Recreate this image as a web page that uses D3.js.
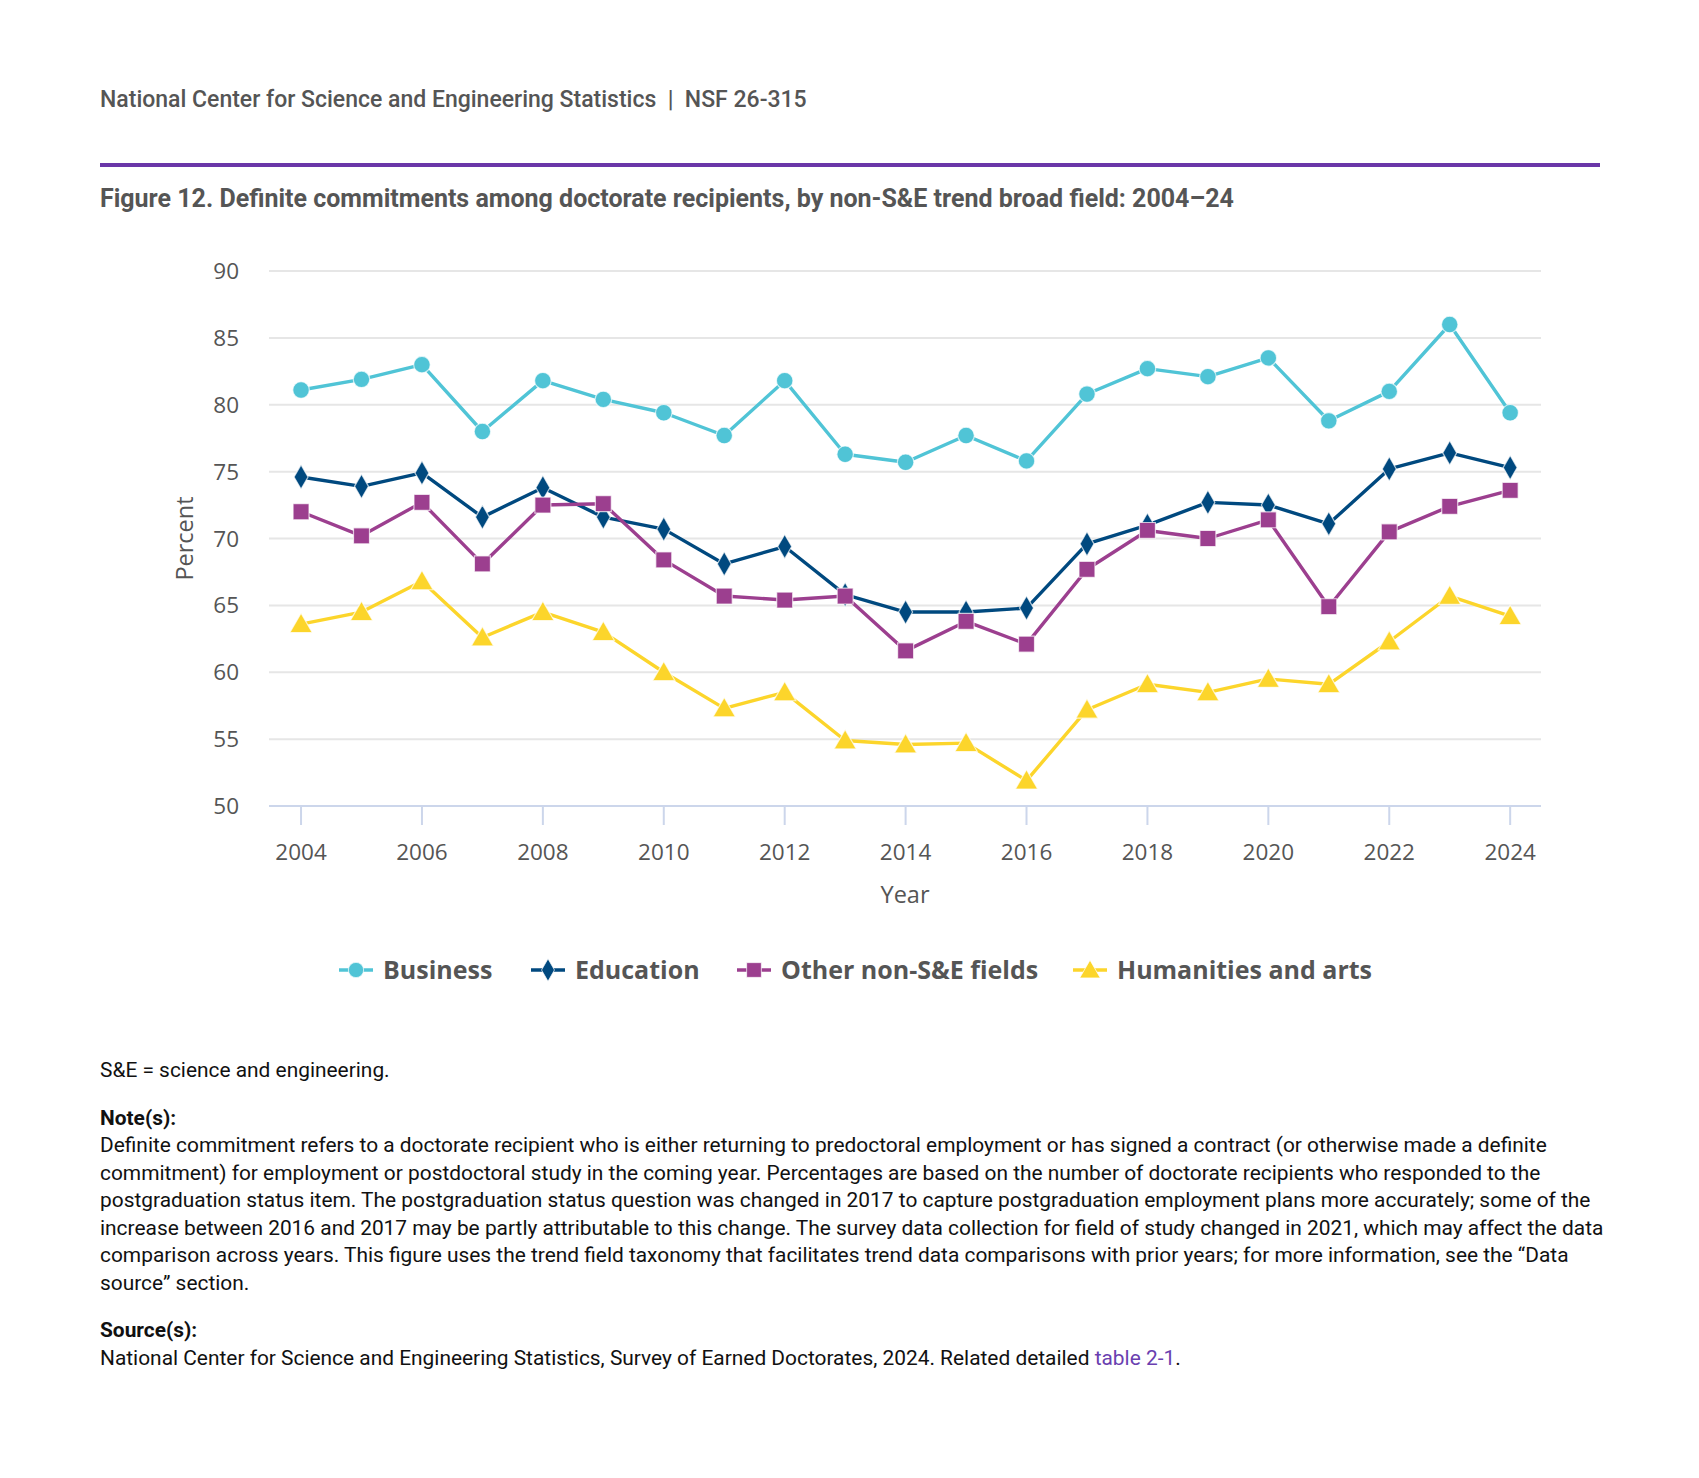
<!DOCTYPE html>
<html>
<head>
<meta charset="utf-8">
<script src="https://cdn.jsdelivr.net/npm/d3@7"></script>
<style>
  body { margin: 0; background: #fff; font-family: Roboto, "Open Sans", sans-serif; }
  #page { position: relative; width: 1699px; height: 1478px; }
  .hdr { position: absolute; left: 100px; top: 86px; font-size: 23px; color: #555; font-weight: 500; white-space: nowrap; }
  .rule { position: absolute; left: 100px; top: 163px; width: 1500px; height: 4px; background: #6a36a8; }
  .title { position: absolute; left: 100px; top: 184px; font-size: 25px; color: #555; font-weight: 700; white-space: nowrap; }
  #chart { position: absolute; left: 0; top: 0; }
  .notes { position: absolute; left: 100px; top: 1057px; width: 1512px; font-size: 20.9px; line-height: 27.5px; color: #111; }
  .notes p { margin: 0 0 20px 0; }
  .notes b { font-weight: 700; }
  .notes a { color: #6a3fb0; text-decoration: none; }
</style>
</head>
<body>
<div id="page">
  <div class="hdr">National Center for Science and Engineering Statistics&nbsp; |&nbsp; NSF 26-315</div>
  <div class="rule"></div>
  <div class="title">Figure 12. Definite commitments among doctorate recipients, by non-S&amp;E trend broad field: 2004–24</div>
  <svg id="chart" width="1699" height="1050"></svg>
  <div class="notes">
    <p>S&amp;E = science and engineering.</p>
    <p><b>Note(s):</b><br>Definite commitment refers to a doctorate recipient who is either returning to predoctoral employment or has signed a contract (or otherwise made a definite commitment) for employment or postdoctoral study in the coming year. Percentages are based on the number of doctorate recipients who responded to the postgraduation status item. The postgraduation status question was changed in 2017 to capture postgraduation employment plans more accurately; some of the increase between 2016 and 2017 may be partly attributable to this change. The survey data collection for field of study changed in 2021, which may affect the data comparison across years. This figure uses the trend field taxonomy that facilitates trend data comparisons with prior years; for more information, see the “Data source” section.</p>
    <p><b>Source(s):</b><br>National Center for Science and Engineering Statistics, Survey of Earned Doctorates, 2024. Related detailed <a>table 2-1</a>.</p>
  </div>
</div>
<script>
const years = d3.range(2004, 2025);
const business   = [81.1, 81.9, 83.0, 78.0, 81.8, 80.4, 79.4, 77.7, 81.8, 76.3, 75.7, 77.7, 75.8, 80.8, 82.7, 82.1, 83.5, 78.8, 81.0, 86.0, 79.4];
const education  = [74.6, 73.9, 74.9, 71.6, 73.8, 71.6, 70.7, 68.1, 69.4, 65.8, 64.5, 64.5, 64.8, 69.6, 71.0, 72.7, 72.5, 71.1, 75.2, 76.4, 75.3];
const otherNonSE = [72.0, 70.2, 72.7, 68.1, 72.5, 72.6, 68.4, 65.7, 65.4, 65.7, 61.6, 63.8, 62.1, 67.7, 70.6, 70.0, 71.4, 64.9, 70.5, 72.4, 73.6];
const humanities = [63.6, 64.5, 66.8, 62.6, 64.5, 63.0, 60.0, 57.3, 58.5, 54.9, 54.6, 54.7, 51.9, 57.2, 59.1, 58.5, 59.5, 59.1, 62.3, 65.7, 64.2];
const yTicks = [50, 55, 60, 65, 70, 75, 80, 85, 90];
const xTicks = d3.range(2004, 2025, 2);

const series = [
  { name: "Business", values: business, color: "#50c4d6", symbol: d3.symbolCircle, size: 215 },
  { name: "Education", values: education, color: "#00497f", symbol: d3.symbolDiamond, size: 170 },
  { name: "Other non-S&E fields", values: otherNonSE, color: "#9c3f8f", symbol: d3.symbolSquare, size: 255 },
  { name: "Humanities and arts", values: humanities, color: "#fcd52b", symbol: d3.symbolTriangle, size: 215 }
];

const svg = d3.select("#chart");
const plotL = 269, plotR = 1541, plotT = 271, plotB = 806;

const x = d3.scaleLinear().domain([2003.47, 2024.51]).range([plotL, plotR]);
const y = d3.scaleLinear().domain([50, 90]).range([plotB, plotT]);
const tickFont = "'Open Sans'";

// gridlines
svg.append("g").selectAll("line").data(yTicks.slice(1)).enter().append("line")
  .attr("x1", plotL).attr("x2", plotR)
  .attr("y1", d => y(d)).attr("y2", d => y(d))
  .attr("stroke", "#e6e6e6").attr("stroke-width", 2);

// y labels
svg.append("g").selectAll("text").data(yTicks).enter().append("text")
  .attr("x", 239).attr("y", d => y(d) + 8)
  .attr("text-anchor", "end")
  .style("font-family", tickFont).style("font-size", "22.5px").style("fill", "#555")
  .text(d => d);

// x axis
svg.append("line").attr("x1", plotL).attr("x2", plotR).attr("y1", plotB).attr("y2", plotB)
  .attr("stroke", "#ccd6eb").attr("stroke-width", 2);
svg.append("g").selectAll("line").data(xTicks).enter().append("line")
  .attr("x1", d => x(d)).attr("x2", d => x(d))
  .attr("y1", plotB).attr("y2", plotB + 19)
  .attr("stroke", "#ccd6eb").attr("stroke-width", 2);
svg.append("g").selectAll("text").data(xTicks).enter().append("text")
  .attr("x", d => x(d)).attr("y", 860)
  .attr("text-anchor", "middle")
  .style("font-family", tickFont).style("font-size", "22.5px").style("fill", "#555")
  .text(d => d);

// axis titles
svg.append("text").attr("x", (plotL + plotR) / 2).attr("y", 903).attr("text-anchor", "middle")
  .style("font-family", tickFont).style("font-size", "23.5px").style("fill", "#555").text("Year");
svg.append("text").attr("transform", `translate(193,${(plotT + plotB) / 2}) rotate(-90)`).attr("text-anchor", "middle")
  .style("font-family", tickFont).style("font-size", "23.5px").style("fill", "#555").text("Percent");

// lines + markers
const line = d3.line().x((d, i) => x(years[i])).y(d => y(d));
series.forEach(s => {
  const g = svg.append("g");
  g.append("path").datum(s.values).attr("d", line)
    .attr("fill", "none").attr("stroke", s.color).attr("stroke-width", 3.4).attr("stroke-linejoin", "round");
  g.selectAll("path.pt").data(s.values).enter().append("path")
    .attr("class", "pt")
    .attr("transform", (d, i) => `translate(${x(years[i])},${y(d) + (s.symbol === d3.symbolTriangle ? 2 : 0)})`)
    .attr("d", d3.symbol().type(s.symbol).size(s.size))
    .attr("fill", s.color).attr("stroke", "#fff").attr("stroke-opacity", 0.7).attr("stroke-width", 1.2);
});

// legend
const legendX = [339, 531, 737, 1073];
const lg = svg.append("g");
series.forEach((s, i) => {
  const gx = legendX[i], gy = 970;
  lg.append("line").attr("x1", gx).attr("x2", gx + 34).attr("y1", gy).attr("y2", gy)
    .attr("stroke", s.color).attr("stroke-width", 3.4);
  lg.append("path").attr("transform", `translate(${gx + 17},${gy + (s.symbol === d3.symbolTriangle ? 2 : 0)})`)
    .attr("d", d3.symbol().type(s.symbol).size(s.size * 0.85))
    .attr("fill", s.color).attr("stroke", "#fff").attr("stroke-opacity", 0.7).attr("stroke-width", 1);
  lg.append("text").attr("x", gx + 44).attr("y", gy + 9)
    .style("font-family", tickFont).style("font-size", "25px").style("font-weight", 700).style("fill", "#555")
    .text(s.name);
});
</script>
</body>
</html>
